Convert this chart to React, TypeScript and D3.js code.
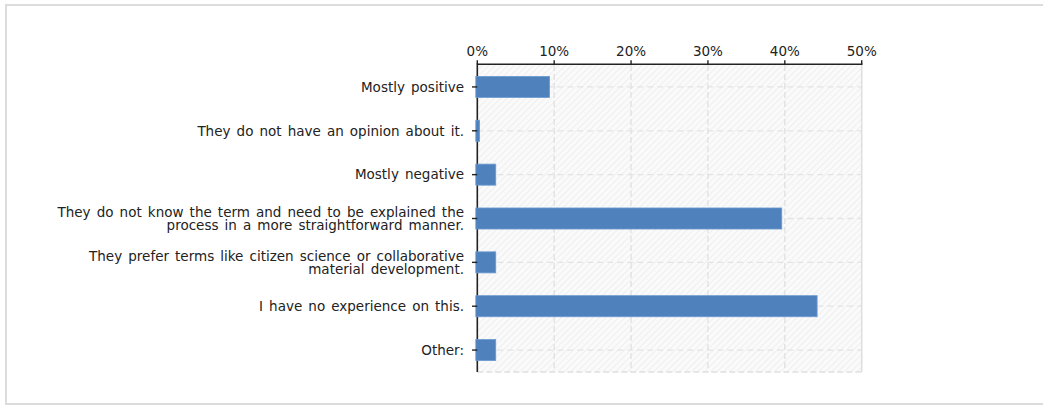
import React from "react";
import * as d3 from "d3";

const categories: string[][] = [
  ["Mostly positive"],
  ["They do not have an opinion about it."],
  ["Mostly negative"],
  ["They do not know the term and need to be explained the", "process in a more straightforward manner."],
  ["They prefer terms like citizen science or collaborative", "material development."],
  ["I have no experience on this."],
  ["Other:"],
];
const values: number[] = [9.4, 0.3, 2.4, 39.6, 2.4, 44.2, 2.4];
const ticks: number[] = [0, 10, 20, 30, 40, 50];

const W = 1043;
const H = 405;
const left = 477.3;
const right = 861.7;
const top = 65;
const bottom = 372;
const FONT = "'DejaVu Sans', Verdana, sans-serif";

export default function App() {
  const x = d3.scaleLinear().domain([0, 50]).range([left, right]);
  const y = d3
    .scaleBand<number>()
    .domain(d3.range(categories.length))
    .range([top, bottom])
    .paddingInner(0.52)
    .paddingOuter(0.26);
  const bw = y.bandwidth();
  const cy = (i: number) => (y(i) as number) + bw / 2;

  return (
    <svg
      width={W}
      height={H}
      style={{ position: "absolute", left: 0, top: 0, background: "#fff" }}
      fontFamily={FONT}
    >
      <defs>
        <pattern
          id="hatch"
          width={4.5}
          height={4.5}
          patternUnits="userSpaceOnUse"
          patternTransform="rotate(45)"
        >
          <rect width={4.5} height={4.5} fill="#fafafa" />
          <line x1={0} y1={0} x2={0} y2={4.5} stroke="#e8e8e8" strokeWidth={1.2} />
        </pattern>
      </defs>
      <rect x={6} y={5} width={W + 10} height={399} fill="#fff" stroke="#dcdcdc" strokeWidth={2} />

      {/* plot background */}
      <rect x={left} y={top} width={right - left} height={bottom - top} fill="url(#hatch)" />

      {/* vertical gridlines */}
      {ticks.slice(1, -1).map((t) => (
        <line
          key={"v" + t}
          x1={x(t)}
          x2={x(t)}
          y1={top}
          y2={bottom}
          stroke="#e0e0e0"
          strokeWidth={1.3}
          strokeDasharray="6,3"
        />
      ))}
      {/* horizontal gridlines */}
      {categories.map((_, i) => (
        <line
          key={"h" + i}
          x1={left}
          x2={right}
          y1={cy(i)}
          y2={cy(i)}
          stroke="#e3e3e3"
          strokeWidth={1.3}
          strokeDasharray="6,4"
        />
      ))}
      {/* right border & bottom */}
      <line x1={right} x2={right} y1={top} y2={bottom} stroke="#dedede" strokeWidth={1.5} />
      <line
        x1={left}
        x2={right}
        y1={bottom}
        y2={bottom}
        stroke="#e0e0e0"
        strokeWidth={1.3}
        strokeDasharray="6,3"
      />

      {/* axes */}
      <line x1={left} x2={right + 0.8} y1={64.3} y2={64.3} stroke="#222" strokeWidth={1.6} />
      <line x1={left} x2={left} y1={63.5} y2={bottom} stroke="#222" strokeWidth={1.6} />
      {ticks.map((t) => (
        <g key={"t" + t}>
          <line x1={x(t)} x2={x(t)} y1={60.3} y2={64.3} stroke="#222" strokeWidth={1.4} />
          <text x={x(t)} y={55.5} textAnchor="middle" fontSize={13.5} fill="#222">
            {t}%
          </text>
        </g>
      ))}

      {/* bars */}
      {values.map((v, i) => (
        <rect
          key={"b" + i}
          x={x(0) - 1.5}
          y={y(i) as number}
          width={x(v) - x(0) + 1.5}
          height={bw}
          fill="#4f81bd"
          stroke="#6c9ad2"
          strokeWidth={0.8}
        />
      ))}

      {/* y labels */}
      {categories.map((lines, i) => (
        <g key={"l" + i}>
          <line x1={472} x2={left} y1={cy(i)} y2={cy(i)} stroke="#222" strokeWidth={1.4} />
          <text textAnchor="end" fontSize={13.5} fill="#222" wordSpacing={1.8}>
            {lines.map((ln, j) => (
              <tspan key={j} x={464} y={cy(i) + 4.8 + (j - (lines.length - 1) / 2) * 13.3}>
                {ln}
              </tspan>
            ))}
          </text>
        </g>
      ))}
    </svg>
  );
}
